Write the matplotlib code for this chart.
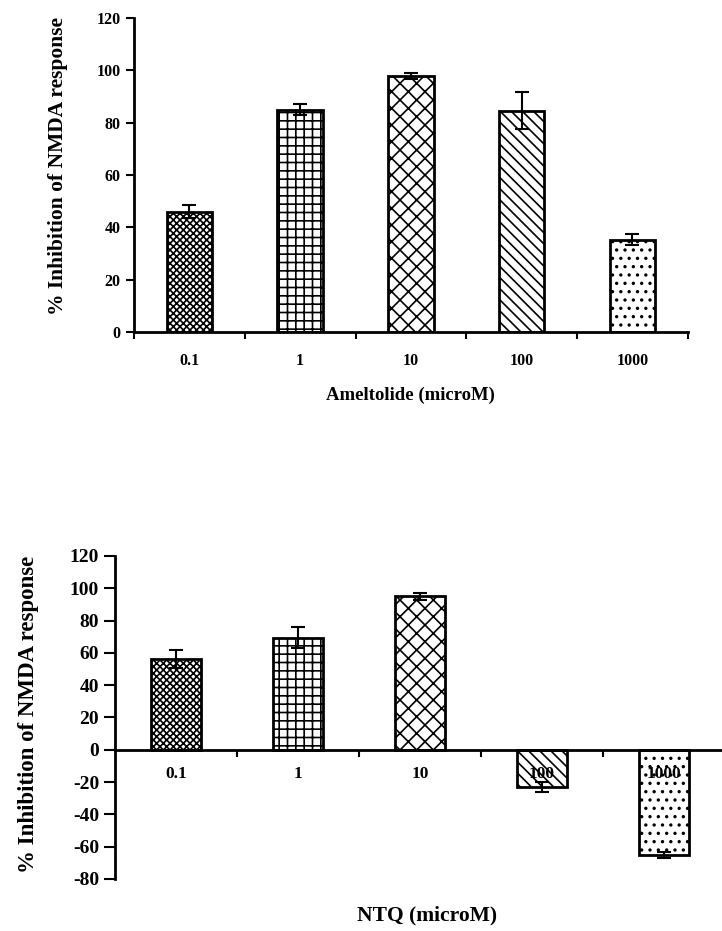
import numpy as np
import matplotlib.pyplot as plt

plt.rcParams['font.family'] = 'Liberation Serif'
plt.rcParams['font.weight'] = 'bold'
plt.rcParams['hatch.linewidth'] = 1.2
plt.rcParams['axes.unicode_minus'] = False

# data
conc_labels = ['0.1', '1', '10', '100', '1000']
amel_mean = [46, 85, 97.8, 84.6, 35.3]
amel_err = [2.6, 2.0, 1.0, 7.0, 2.2]
ntq_mean = [56, 69.5, 95, -23, -65]
ntq_err = [5.5, 6.5, 2.0, 3.0, 2.0]
hatches = ['xxxxx', '++', 'xx', '\\\\\\', '..']

x = np.arange(len(conc_labels))

fig = plt.figure(figsize=(7.22, 9.31), dpi=100)

# ---- top panel: Ameltolide
ax1 = fig.add_axes([0.1856, 0.6434, 0.767, 0.3373])
bars = ax1.bar(x, amel_mean, width=0.41, color='white', edgecolor='black',
               linewidth=2, zorder=2)
for b, h in zip(bars, hatches):
    b.set_hatch(h)
ax1.errorbar(x, amel_mean, yerr=amel_err, fmt='none', ecolor='black',
             elinewidth=1.5, capsize=5, capthick=1.5, zorder=3)
ax1.set_xlim(-0.5, 4.5)
ax1.set_ylim(0, 120)
ax1.set_yticks(np.arange(0, 121, 20))
ax1.set_xticks(x)
ax1.set_xticklabels(conc_labels, fontsize=11.5)
ax1.set_xticks(np.arange(-0.5, 4.6, 1), minor=True)
ax1.tick_params(axis='x', which='major', length=0, pad=15)
ax1.tick_params(axis='x', which='minor', length=5, width=1.5, direction='out')
ax1.tick_params(axis='y', labelsize=11.5, length=6, width=1.5, direction='out')
for s in ['top', 'right']:
    ax1.spines[s].set_visible(False)
for s in ['left', 'bottom']:
    ax1.spines[s].set_linewidth(2)
ax1.set_xlabel('Ameltolide (microM)', fontsize=13.5, fontweight='bold')
ax1.xaxis.set_label_coords(0.5, -0.175)
ax1.set_ylabel('% Inhibition of NMDA response', fontsize=15.5, fontweight='bold')
ax1.yaxis.set_label_coords(-0.12, 0.53)

# ---- bottom panel: NTQ
ax2 = fig.add_axes([0.1593, 0.0559, 0.8407, 0.3469])
bars = ax2.bar(x, ntq_mean, width=0.41, color='white', edgecolor='black',
               linewidth=2, zorder=2)
for b, h in zip(bars, hatches):
    b.set_hatch(h)
ax2.errorbar(x, ntq_mean, yerr=ntq_err, fmt='none', ecolor='black',
             elinewidth=1.5, capsize=5, capthick=1.5, zorder=3)
ax2.set_axisbelow(False)
ax2.set_xlim(-0.5, 4.475)
ax2.set_ylim(-80, 120)
ax2.set_yticks(np.arange(-80, 121, 20))
ax2.spines['bottom'].set_position(('data', 0))
ax2.set_xticks(x)
ax2.set_xticklabels(conc_labels, fontsize=12.5)
ax2.set_xticks(np.arange(0.5, 4.0, 1), minor=True)
ax2.tick_params(axis='x', which='major', length=0, pad=12)
ax2.tick_params(axis='x', which='minor', length=5, width=1.5, direction='out')
ax2.tick_params(axis='y', labelsize=14, length=8, width=1.5, direction='out')
for s in ['top', 'right']:
    ax2.spines[s].set_visible(False)
for s in ['left', 'bottom']:
    ax2.spines[s].set_linewidth(2)
ax2.set_ylabel('% Inhibition of NMDA response', fontsize=16.5, fontweight='bold')
ax2.yaxis.set_label_coords(-0.125, 0.51)
fig.text(427 / 722, 1 - 915 / 931, 'NTQ (microM)', fontsize=15.5,
         fontweight='bold', ha='center', va='center')

fig.savefig('out.png', dpi=100)
